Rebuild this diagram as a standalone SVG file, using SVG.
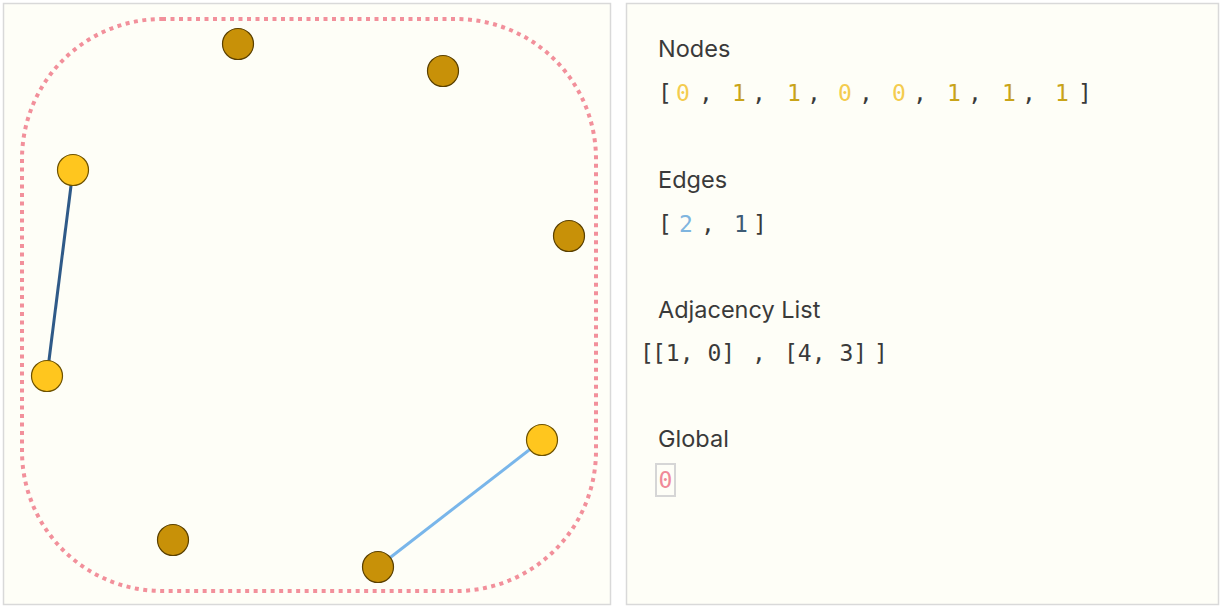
<svg xmlns="http://www.w3.org/2000/svg" width="1221" height="608" viewBox="0 0 1221 608">
<style>
.panel{fill:#FEFEF7;stroke:#D9D9D9;stroke-width:1.5}
.lbl{font-family:Inter,"Noto Sans","Liberation Sans",sans-serif;font-size:23.5px;fill:#3A3A3A}
.code{font-family:"DejaVu Sans Mono","Liberation Mono",monospace;font-size:23px;fill:#3A3A3A}
.c{text-anchor:middle}
.z{fill:#F4CC4E}
.o{fill:#C9A419}
.n0{fill:#FFC61E;stroke:#6E5200;stroke-width:1.2}
.n1{fill:#C89108;stroke:#5A4000;stroke-width:1.2}
</style>
<rect width="1221" height="608" fill="#FFFFFF"/>
<rect class="panel" x="3.5" y="3.5" width="607" height="601"/>
<rect class="panel" x="626.5" y="3.5" width="592" height="601"/>
<rect x="22" y="19" width="574" height="572" rx="140" ry="140" fill="none" stroke="#F2909B" stroke-width="4" stroke-dasharray="4 4.5"/>
<g id="connectors">
<line x1="73" y1="170" x2="47" y2="376" stroke="#2F5A88" stroke-width="3"/>
<line x1="542" y1="440" x2="378" y2="567" stroke="#79B6EA" stroke-width="3"/>
</g>
<g id="node0"><circle class="n1" cx="238" cy="44" r="15.5"/></g>
<g id="node1"><circle class="n1" cx="443" cy="71" r="15.5"/></g>
<g id="node2"><circle class="n0" cx="73" cy="170" r="15.5"/></g>
<g id="node3"><circle class="n1" cx="569" cy="236" r="15.5"/></g>
<g id="node4"><circle class="n0" cx="47" cy="376" r="15.5"/></g>
<g id="node5"><circle class="n0" cx="542" cy="440" r="15.5"/></g>
<g id="node6"><circle class="n1" cx="173" cy="540" r="15.5"/></g>
<g id="node7"><circle class="n1" cx="378" cy="567" r="15.5"/></g>
<g id="nodes-text">
<text class="lbl" x="658" y="57">Nodes</text>
<g class="code c">
<text x="665" y="101">[</text>
<text class="z" x="683" y="101">0</text>
<text x="706" y="101">,</text>
<text class="o" x="739" y="101">1</text>
<text x="759" y="101">,</text>
<text class="o" x="794" y="101">1</text>
<text x="814" y="101">,</text>
<text class="z" x="845" y="101">0</text>
<text x="866" y="101">,</text>
<text class="z" x="899" y="101">0</text>
<text x="920" y="101">,</text>
<text class="o" x="954" y="101">1</text>
<text x="975" y="101">,</text>
<text class="o" x="1009" y="101">1</text>
<text x="1029" y="101">,</text>
<text class="o" x="1062" y="101">1</text>
<text x="1085" y="101">]</text>
</g>
</g>
<g id="edges-text">
<text class="lbl" x="658" y="188">Edges</text>
<g class="code c">
<text x="665" y="232">[</text>
<text x="686" y="232" style="fill:#7FB5DF">2</text>
<text x="708" y="232">,</text>
<text x="741" y="232" style="fill:#3E5B75">1</text>
<text x="760" y="232">]</text>
</g>
</g>
<g id="adj-text">
<text class="lbl" x="658" y="318">Adjacency List</text>
<text class="code c" x="647" y="361">[</text>
<text class="code" x="652" y="361">[1, 0]</text>
<text class="code c" x="759" y="361">,</text>
<text class="code" x="784" y="361">[4, 3]</text>
<text class="code c" x="881" y="361">]</text>
</g>
<g id="global-text">
<text class="lbl" x="658" y="447">Global</text>
<rect x="656" y="464" width="19" height="32" fill="none" stroke="#D6D6D6" stroke-width="2"/>
<text class="code c" x="665.5" y="488" style="fill:#F08A98">0</text>
</g>
</svg>
